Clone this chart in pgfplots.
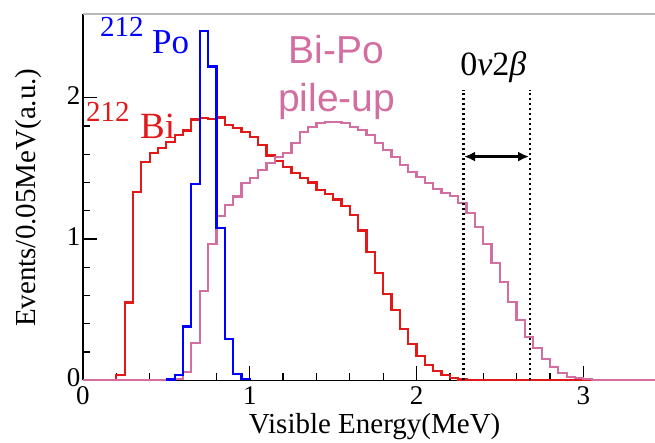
\documentclass[border=0pt]{standalone}
\usepackage{fontspec}
\setmainfont{Liberation Serif}
\newfontfamily\sansf{Liberation Sans}
\usepackage{pgfplots}
\pgfplotsset{compat=1.18}
\usetikzlibrary{arrows.meta}
\definecolor{hred}{RGB}{225,25,25}
\definecolor{hblue}{RGB}{0,0,255}
\definecolor{hpink}{RGB}{210,110,160}
\definecolor{frameg}{RGB}{185,185,185}
\begin{document}
\begin{tikzpicture}
\useasboundingbox (-83pt,-62.7pt) rectangle (572pt,380.3pt);
\begin{axis}[
  scale only axis, width=572pt, height=366.3pt,
  xmin=0, xmax=3.43, ymin=0, ymax=2.592,
  axis x line*=bottom, axis y line*=left,
  axis line style={line width=1.5pt, black},
  xtick={0,1,2,3}, ytick={0,1,2},
  minor x tick num=4, minor y tick num=4,
  tick align=inside,
  major tick length=14pt, minor tick length=7pt,
  tick style={line width=1.3pt, black},
  /pgf/number format/assume math mode=true,
  ticklabel style={font=\fontsize{27}{27}\selectfont},
  yticklabel style={xshift=1pt, yshift=2.5pt},
  xticklabel style={yshift=-3pt},
  clip=false,
]
\draw[frameg, line width=1.3pt] (rel axis cs:0,1) -- (rel axis cs:1,1);

\addplot[hred, line width=2.2pt, const plot mark left] coordinates {
(0,0.0)(0.2,0.035)(0.25,0.55)(0.30,1.335)(0.35,1.547)(0.40,1.61)(0.45,1.645)
(0.50,1.685)(0.55,1.734)(0.60,1.767)(0.65,1.846)(0.70,1.854)(0.75,1.848)(0.80,1.86)
(0.85,1.804)(0.90,1.783)(0.95,1.759)(1.00,1.724)(1.05,1.665)(1.10,1.59)(1.15,1.55)
(1.20,1.51)(1.25,1.465)(1.30,1.43)(1.35,1.40)(1.40,1.348)(1.45,1.32)(1.50,1.28)
(1.55,1.232)(1.60,1.17)(1.65,1.06)(1.70,0.91)(1.75,0.76)(1.80,0.61)(1.85,0.495)
(1.90,0.365)(1.95,0.257)(2.00,0.174)(2.05,0.11)(2.10,0.065)(2.15,0.035)(2.20,0.017)
(2.25,0.006)(2.30,0.002)(2.35,0)(3.43,0)};

\addplot[hpink, line width=2.2pt, const plot mark left] coordinates {
(0,0)(0.55,0.01)(0.60,0.061)(0.65,0.262)(0.70,0.634)(0.75,0.965)(0.80,1.165)
(0.85,1.24)(0.90,1.30)(0.95,1.394)(1.00,1.43)(1.05,1.488)(1.10,1.535)(1.15,1.582)
(1.20,1.606)(1.25,1.677)(1.30,1.759)(1.35,1.795)(1.40,1.819)(1.45,1.83)(1.50,1.826)
(1.55,1.819)(1.60,1.795)(1.65,1.771)(1.70,1.736)(1.75,1.677)(1.80,1.63)(1.85,1.582)
(1.90,1.524)(1.95,1.476)(2.00,1.436)(2.05,1.394)(2.10,1.351)(2.15,1.323)(2.20,1.304)
(2.25,1.253)(2.30,1.186)(2.35,1.083)(2.40,0.965)(2.45,0.828)(2.50,0.698)(2.55,0.556)
(2.60,0.427)(2.65,0.309)(2.70,0.226)(2.75,0.149)(2.80,0.092)(2.85,0.05)(2.90,0.026)
(2.95,0.014)(3.00,0.007)(3.05,0.002)(3.10,0)(3.43,0)};

\addplot[hblue, line width=2.2pt, const plot mark left] coordinates {
(0.50,0.005)(0.55,0.04)(0.60,0.38)(0.65,1.39)(0.70,2.47)(0.75,2.22)(0.80,1.08)
(0.85,0.295)(0.90,0.042)(0.95,0.008)(1.00,0)};

% 0nu2beta window
\addplot[black, line width=2.6pt, dash pattern=on 2.6pt off 2.4pt] coordinates {(2.28,0)(2.28,2.054)};
\addplot[black, line width=2.6pt, dash pattern=on 2.6pt off 2.4pt] coordinates {(2.68,0)(2.68,2.054)};
\draw[black, line width=2.2pt, {Latex[length=11pt,width=10pt]}-{Latex[length=11pt,width=10pt]}]
  (axis cs:2.285,1.583) -- (axis cs:2.675,1.583);
\node[anchor=base, inner sep=0pt, font=\fontsize{34}{34}\selectfont] at (axis cs:2.461,2.16) {0{\itshape ν}2{\itshape β}};

% labels
\node[anchor=base west, inner sep=0pt, text=hblue, font=\fontsize{29}{29}\selectfont] at (axis cs:0.102,2.432) {212};
\node[anchor=base west, inner sep=0pt, text=hblue, font=\fontsize{35}{35}\selectfont] at (axis cs:0.414,2.309) {Po};
\node[anchor=base west, inner sep=0pt, text=hred, font=\fontsize{29}{29}\selectfont] at (axis cs:0.018,1.830) {212};
\node[anchor=base west, inner sep=0pt, text=hred, font=\fontsize{37}{37}\selectfont] at (axis cs:0.342,1.713) {Bi};
\node[anchor=base, inner sep=0pt, text=hpink, font=\sansf\fontsize{39}{39}\selectfont] at (axis cs:1.518,2.244) {Bi-Po};
\node[anchor=base, inner sep=0pt, text=hpink, font=\sansf\fontsize{39}{39}\selectfont] at (axis cs:1.522,1.901) {pile-up};

\node[anchor=base, inner sep=0pt, font=\fontsize{29}{29}\selectfont] at (axis cs:1.749,-0.373) {Visible Energy(MeV)};
\node[anchor=base, inner sep=0pt, rotate=90, font=\fontsize{29}{29}\selectfont] at (axis cs:-0.282,1.292) {Events/0.05MeV(a.u.)};
\end{axis}
\end{tikzpicture}
\end{document}
